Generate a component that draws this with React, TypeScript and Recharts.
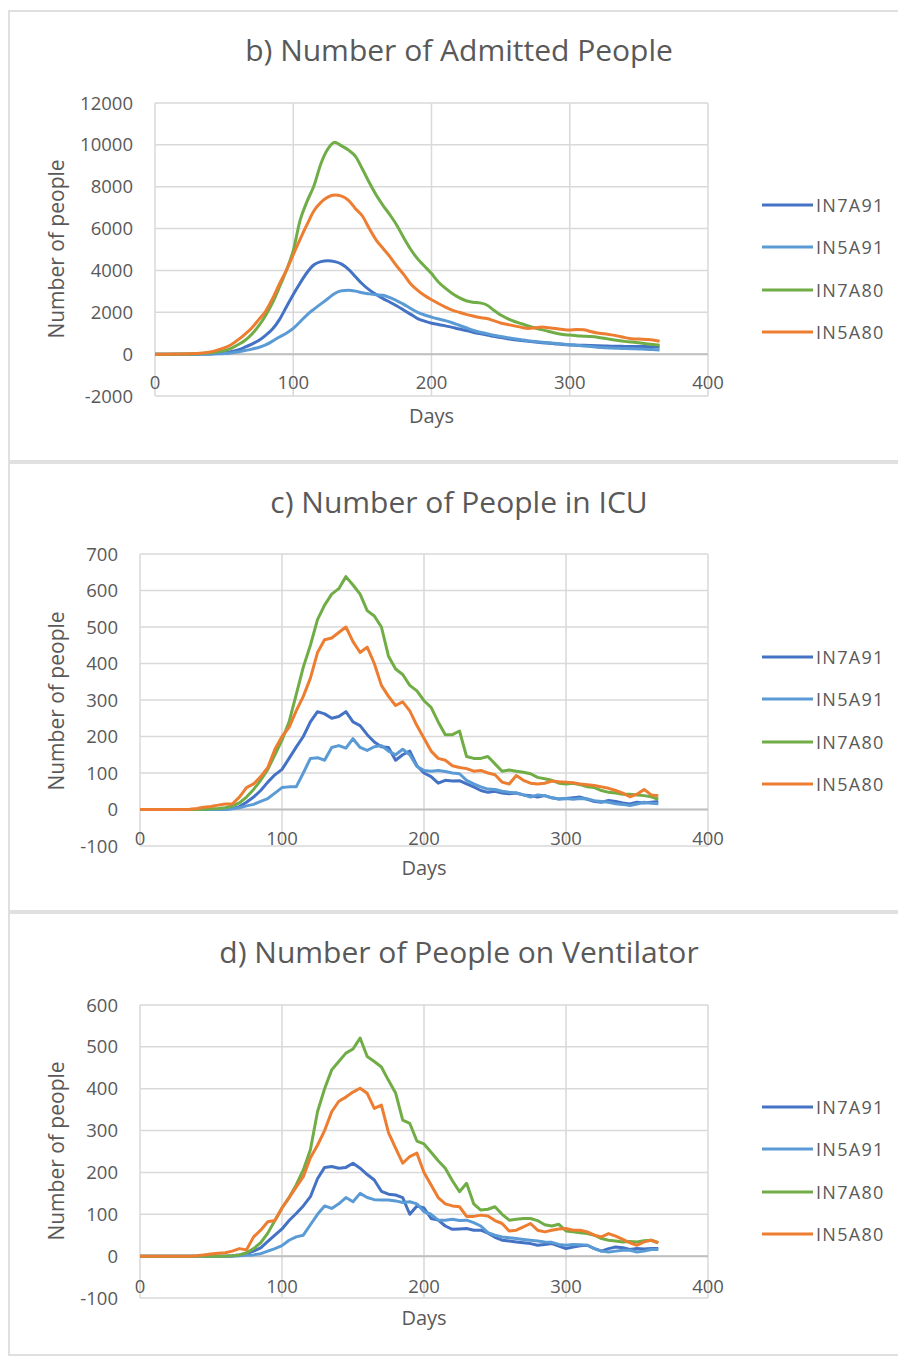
import React from "react";
import {
  LineChart,
  Line,
  XAxis,
  YAxis,
  CartesianGrid,
  Legend,
  ReferenceLine,
} from "recharts";

// sampling grid: every 5 days, last point is day 365
const DAYS = [
  0, 5, 10, 15, 20, 25, 30, 35, 40, 45, 50, 55, 60, 65, 70, 75, 80, 85, 90, 95,
  100, 105, 110, 115, 120, 125, 130, 135, 140, 145, 150, 155, 160, 165, 170, 175,
  180, 185, 190, 195, 200, 205, 210, 215, 220, 225, 230, 235, 240, 245, 250, 255,
  260, 265, 270, 275, 280, 285, 290, 295, 300, 305, 310, 315, 320, 325, 330, 335,
  340, 345, 350, 355, 360, 365,
];

const X_TICKS = [0, 100, 200, 300, 400];

// b) admitted
const ADM_IN7A91 = [
  0, 0, 0, 0, 0, 0, 0, 5, 10, 30, 60, 120, 200, 330, 480, 650, 900, 1200, 1650, 2250,
  2850, 3400, 3900, 4270, 4420, 4460, 4420, 4300, 4050, 3700, 3350, 3070, 2850, 2650, 2480, 2300,
  2100, 1900, 1700, 1580, 1480, 1420, 1350, 1280, 1200, 1130, 1050, 980, 910, 850, 790, 740,
  690, 650, 610, 580, 550, 520, 490, 460, 440, 430, 420, 410, 400, 390, 380, 380,
  370, 370, 360, 360, 350, 340,
];
const ADM_IN5A91 = [
  0, 0, 0, 0, 0, 0, 0, 0, 5, 15, 30, 60, 100, 170, 240, 320, 440, 620, 820, 1000,
  1230, 1550, 1880, 2150, 2400, 2650, 2900, 3030, 3055, 3010, 2930, 2880, 2840, 2810, 2700, 2550,
  2380, 2180, 2000, 1870, 1770, 1680, 1600, 1500, 1380, 1260, 1140, 1050, 980, 900, 840, 790,
  740, 690, 640, 600, 570, 540, 510, 480, 450, 420, 390, 360, 330, 310, 290, 280,
  270, 260, 250, 230, 220, 200,
];
const ADM_IN7A80 = [
  0, 0, 0, 0, 5, 10, 20, 40, 70, 110, 170, 280, 450, 650, 950, 1350, 1850, 2450, 3200, 4000,
  4950, 6400, 7300, 8050, 9100, 9800, 10130, 9950, 9750, 9450, 8850, 8200, 7600, 7100, 6650, 6150,
  5550, 5000, 4550, 4200, 3850, 3450, 3150, 2900, 2700, 2550, 2480, 2450, 2350, 2100, 1870, 1700,
  1560, 1450, 1350, 1250, 1170, 1080, 1000, 940, 910, 880, 860, 840, 810, 760, 700, 650,
  610, 580, 540, 500, 460, 420,
];
const ADM_IN5A80 = [
  0, 0, 0, 5, 10, 15, 25, 50, 100, 190, 300, 450, 680, 950, 1250, 1650, 2050, 2650, 3350, 4000,
  4750, 5500, 6200, 6850, 7250, 7500, 7600, 7550, 7350, 6950, 6600, 6000, 5450, 5050, 4650, 4200,
  3800, 3350, 3050, 2800, 2600, 2420, 2250, 2100, 2000, 1900, 1820, 1750, 1700, 1600, 1490, 1420,
  1350, 1280, 1230, 1260, 1300, 1260, 1220, 1180, 1150, 1180, 1170, 1080, 1010, 970, 920, 860,
  790, 740, 720, 700, 680, 620,
];

// c) ICU
const ICU_IN7A91 = [
  0, 0, 0, 0, 0, 0, 0, 0, 0, 0, 0, 0, 1, 3, 8, 20, 34, 52, 75, 95,
  110, 140, 171, 200, 240, 268, 262, 250, 255, 268, 240, 230, 205, 185, 172, 170,
  135, 150, 160, 120, 100, 90, 72, 80, 78, 79, 70, 62, 52, 47, 50, 45,
  43, 45, 40, 38, 34, 38, 32, 29, 30, 32, 34, 28, 22, 20, 25, 22,
  18, 15, 20, 18, 20, 22,
];
const ICU_IN5A91 = [
  0, 0, 0, 0, 0, 0, 0, 0, 0, 0, 0, 0, 0, 2, 5, 10, 14, 22, 30, 45,
  60, 62, 62, 100, 140, 142, 135, 170, 175, 168, 194, 170, 162, 172, 175, 160,
  150, 165, 150, 118, 107, 105, 107, 104, 100, 98, 80, 70, 62, 56, 55, 50,
  47, 45, 40, 34, 40, 38, 32, 29, 30, 28, 30, 29, 24, 22, 20, 16,
  14, 11, 15, 20, 17, 16,
];
const ICU_IN7A80 = [
  0, 0, 0, 0, 0, 0, 0, 0, 0, 1, 2, 3, 5, 10, 18, 34, 55, 80, 110, 150,
  190, 240, 315, 390, 450, 520, 560, 590, 605, 638, 615, 590, 545, 530, 500, 420,
  385, 370, 340, 325, 298, 280, 240, 205, 205, 215, 145, 140, 140, 145, 125, 105,
  108, 105, 102, 98, 88, 84, 80, 72, 70, 72, 68, 62, 60, 52, 47, 45,
  42, 42, 40, 38, 35, 28,
];
const ICU_IN5A80 = [
  0, 0, 0, 0, 0, 0, 0, 1, 3, 6, 8, 12, 15, 15, 34, 60, 70, 90, 115, 165,
  200, 225, 270, 310, 360, 430, 465, 470, 485, 500, 460, 430, 445, 400, 340, 310,
  285, 295, 270, 230, 195, 160, 140, 135, 120, 115, 112, 105, 107, 100, 95, 75,
  70, 93, 80, 72, 70, 72, 78, 76, 75, 73, 70, 68, 66, 62, 58, 52,
  45, 35, 42, 55, 40, 38,
];

// d) ventilator
const VEN_IN7A91 = [
  0, 0, 0, 0, 0, 0, 0, 0, 0, 0, 0, 0, 0, 1, 3, 6, 12, 20, 35, 50,
  65, 85, 102, 120, 142, 185, 212, 214, 210, 212, 222, 210, 195, 182, 155, 148,
  146, 140, 100, 120, 115, 90, 86, 72, 64, 65, 66, 62, 62, 55, 45, 38,
  36, 34, 32, 30, 26, 28, 30, 24, 18, 22, 25, 26, 18, 12, 18, 22,
  20, 16, 18, 17, 18, 18,
];
const VEN_IN5A91 = [
  0, 0, 0, 0, 0, 0, 0, 0, 0, 0, 0, 0, 0, 0, 1, 2, 3, 6, 12, 18,
  25, 38, 46, 50, 75, 100, 120, 114, 125, 140, 130, 150, 140, 135, 134, 134,
  132, 128, 130, 125, 106, 100, 86, 86, 88, 85, 86, 80, 72, 56, 50, 46,
  44, 42, 40, 38, 36, 34, 33, 28, 26, 28, 27, 26, 18, 12, 10, 12,
  14, 14, 10, 12, 16, 16,
];
const VEN_IN7A80 = [
  0, 0, 0, 0, 0, 0, 0, 0, 0, 0, 0, 0, 0, 1, 3, 8, 18, 32, 55, 85,
  115, 140, 170, 206, 254, 345, 400, 445, 465, 485, 495, 521, 477, 465, 452, 420,
  390, 325, 317, 275, 268, 248, 228, 210, 180, 154, 174, 125, 110, 112, 118, 100,
  86, 88, 90, 90, 85, 75, 72, 76, 60, 58, 56, 54, 50, 42, 38, 36,
  34, 35, 34, 37, 38, 32,
];
const VEN_IN5A80 = [
  0, 0, 0, 0, 0, 0, 0, 0, 1, 3, 5, 7, 8, 12, 18, 15, 46, 62, 82, 85,
  115, 140, 165, 190, 235, 265, 300, 345, 370, 380, 392, 401, 389, 353, 361, 295,
  258, 222, 238, 246, 200, 170, 140, 125, 120, 118, 95, 95, 98, 96, 85, 78,
  60, 62, 70, 78, 62, 58, 62, 65, 66, 62, 62, 58, 50, 46, 54, 48,
  40, 32, 26, 34, 38, 32,
];

const SERIES = [
  { key: "IN7A91", color: "#4472C4" },
  { key: "IN5A91", color: "#5B9BD5" },
  { key: "IN7A80", color: "#70AD47" },
  { key: "IN5A80", color: "#ED7D31" },
];

const TEXT = "#595959";
const FONT = "'Open Sans', 'Noto Sans', sans-serif";
const W = 898;
const YW = 60;
const XH = 30;

const rows = (a: number[], b: number[], c: number[], d: number[]) =>
  DAYS.map((day, i) => ({ day, IN7A91: a[i], IN5A91: b[i], IN7A80: c[i], IN5A80: d[i] }));

const PANELS = [
  {
    title: "b) Number of Admitted People",
    top: 10,
    height: 452,
    plot: { left: 155, right: 708, top: 103, bottom: 396 },
    domain: [-2000, 12000],
    ticks: [-2000, 0, 2000, 4000, 6000, 8000, 10000, 12000],
    lift: 13,
    smooth: true,
    data: rows(ADM_IN7A91, ADM_IN5A91, ADM_IN7A80, ADM_IN5A80),
  },
  {
    title: "c) Number of People in ICU",
    top: 462,
    height: 450,
    plot: { left: 140, right: 708, top: 554, bottom: 846 },
    domain: [-100, 700],
    ticks: [-100, 0, 100, 200, 300, 400, 500, 600, 700],
    lift: 7,
    smooth: false,
    data: rows(ICU_IN7A91, ICU_IN5A91, ICU_IN7A80, ICU_IN5A80),
  },
  {
    title: "d) Number of People on Ventilator",
    top: 912,
    height: 444,
    plot: { left: 140, right: 708, top: 1005, bottom: 1298 },
    domain: [-100, 600],
    ticks: [-100, 0, 100, 200, 300, 400, 500, 600],
    lift: 11,
    smooth: false,
    data: rows(VEN_IN7A91, VEN_IN5A91, VEN_IN7A80, VEN_IN5A80),
  },
];

const LegendBox = () => (
  <div style={{ fontFamily: FONT }}>
    {SERIES.map((s) => (
      <div key={s.key} style={{ height: 42.3, display: "flex", alignItems: "center" }}>
        <svg width={54} height={6} style={{ display: "block" }}>
          <line x1={0} y1={3} x2={51} y2={3} stroke={s.color} strokeWidth={3} />
        </svg>
        <span style={{ fontSize: 18, color: TEXT, letterSpacing: 1.3 }}>{s.key}</span>
      </div>
    ))}
  </div>
);

function Panel({ p }: { p: (typeof PANELS)[number] }) {
  const { plot } = p;
  const XTick = (props: any) => (
    <text
      x={props.x}
      y={props.y - p.lift}
      dy="0.35em"
      textAnchor="middle"
      fill={TEXT}
      fontSize={18.5}
      fontFamily={FONT}
    >
      {props.payload.value}
    </text>
  );
  const plotMid = (plot.left + plot.right) / 2;
  return (
    <>
      <div
        style={{
          position: "absolute",
          left: 8,
          top: p.top,
          width: 900,
          height: p.height,
          border: "2px solid #e0e0e0",
          boxSizing: "border-box",
        }}
      />
      <div
        style={{
          position: "absolute",
          left: 0,
          top: p.top + 40,
          width: 918,
          textAlign: "center",
          fontFamily: FONT,
          fontSize: 30,
          color: TEXT,
          lineHeight: "0px",
        }}
      >
        {p.title}
      </div>
      <div
        style={{
          position: "absolute",
          left: 56,
          top: p.top + 239,
          transform: "translate(-50%, -50%) rotate(-90deg)",
          fontFamily: FONT,
          fontSize: 21,
          color: TEXT,
          whiteSpace: "nowrap",
        }}
      >
        Number of people
      </div>
      <div
        style={{
          position: "absolute",
          left: plotMid,
          top: p.top + 405,
          transform: "translate(-50%, -50%)",
          fontFamily: FONT,
          fontSize: 20,
          color: TEXT,
        }}
      >
        Days
      </div>
      <div style={{ position: "absolute", left: 0, top: p.top }}>
        <LineChart
          width={W}
          height={p.height}
          data={p.data}
          margin={{
            left: plot.left - YW,
            right: W - plot.right,
            top: plot.top - p.top,
            bottom: p.top + p.height - plot.bottom - XH,
          }}
        >
          <CartesianGrid stroke="#d9d9d9" strokeWidth={1.5} />
          <XAxis
            dataKey="day"
            type="number"
            domain={[0, 400]}
            ticks={X_TICKS}
            axisLine={false}
            tickLine={false}
            tickSize={0}
            tickMargin={0}
            height={XH}
            tick={XTick}
          />
          <YAxis
            type="number"
            domain={p.domain}
            ticks={p.ticks}
            width={YW}
            axisLine={false}
            tickLine={false}
            tickSize={0}
            tickMargin={22}
            tick={{ fill: TEXT, fontSize: 18.5, fontFamily: FONT }}
          />
          <ReferenceLine y={0} stroke="#bfbfbf" strokeWidth={2} />
          {SERIES.map((s) => (
            <Line
              key={s.key}
              dataKey={s.key}
              stroke={s.color}
              strokeWidth={3}
              type={p.smooth ? "monotone" : "linear"}
              dot={false}
              isAnimationActive={false}
              strokeLinejoin="round"
            />
          ))}
          <Legend
            content={<LegendBox />}
            wrapperStyle={{
              position: "absolute",
              left: 762,
              top: 174,
              width: 136,
              height: 0,
              overflow: "visible",
            }}
          />
        </LineChart>
      </div>
    </>
  );
}

export default function App() {
  return (
    <div
      style={{
        position: "absolute",
        left: 0,
        top: 0,
        width: W,
        height: 1356,
        background: "#fff",
        overflow: "hidden",
      }}
    >
      {PANELS.map((p) => (
        <Panel key={p.title} p={p} />
      ))}
    </div>
  );
}
